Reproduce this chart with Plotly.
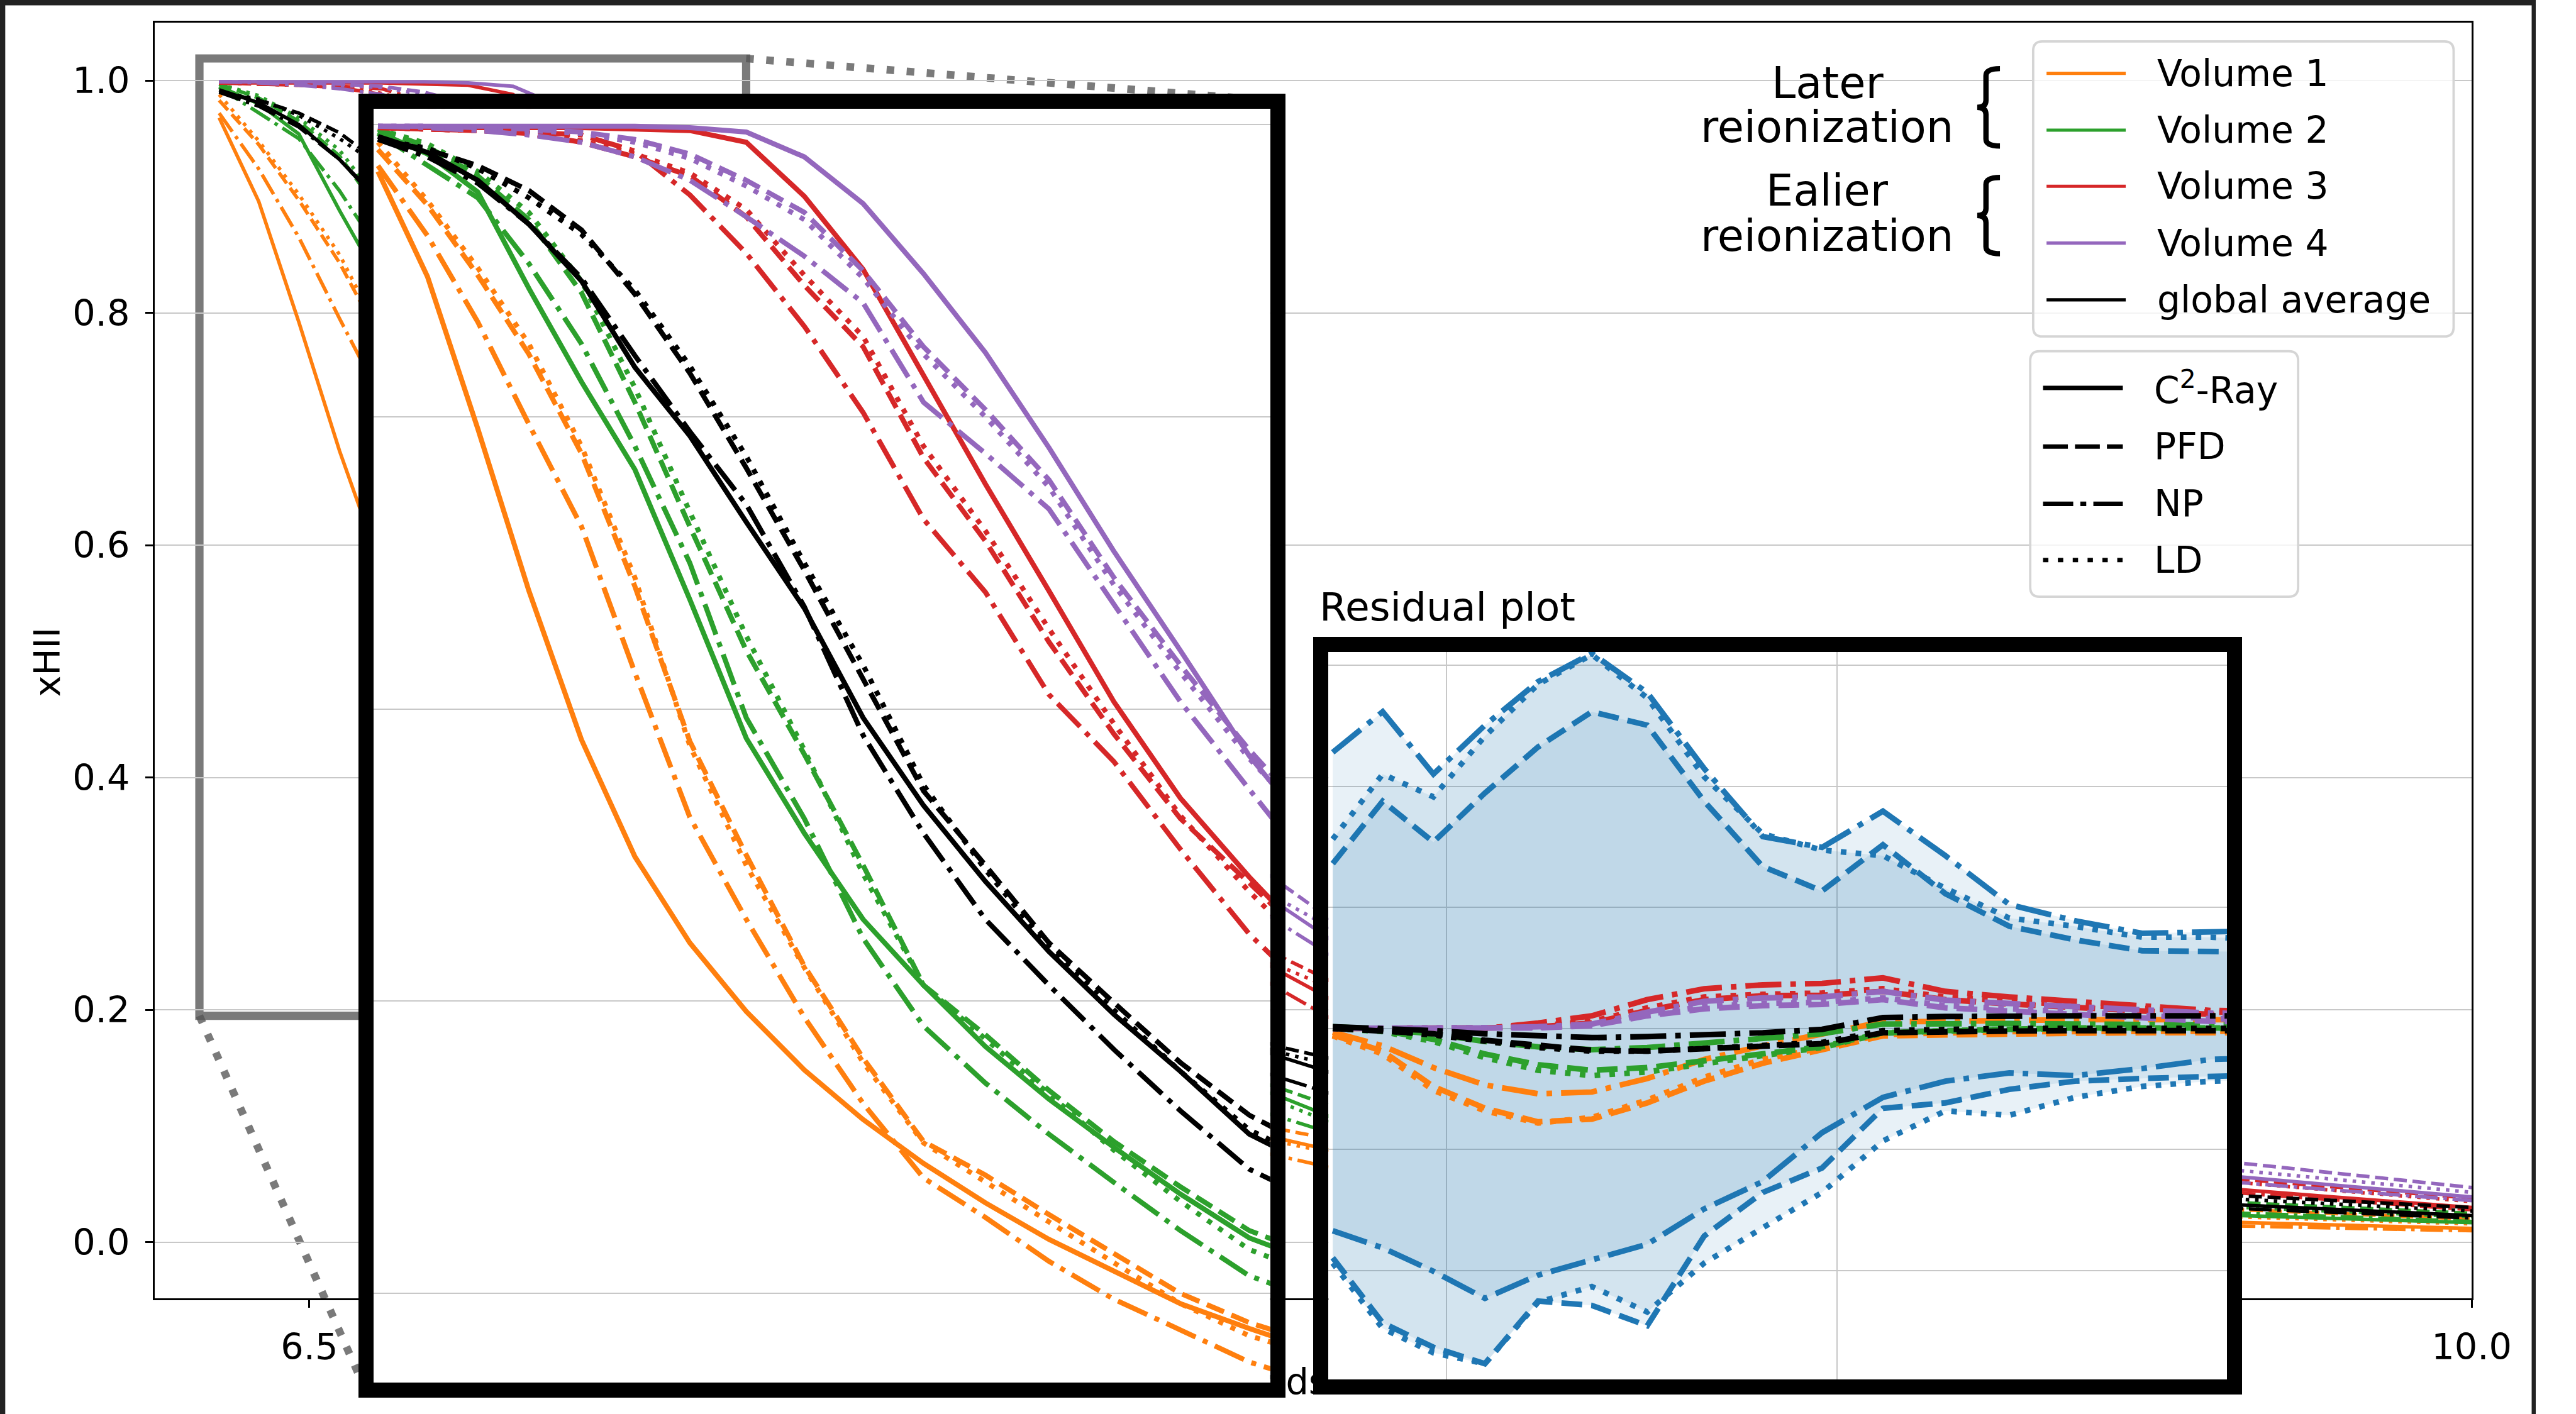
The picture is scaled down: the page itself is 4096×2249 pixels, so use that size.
import plotly.graph_objects as go

REF_W, REF_H = 4354, 2391
W, H = 4096, 2249
S = W / REF_W


def fx(p):
    return p / REF_W


def fy(p):
    return 1.0 - p / REF_H


def sc(v):
    return v * S


FONT = "DejaVu Sans"

# ------------------------------------------------------------------ data
Z = [6.354, 6.418, 6.483, 6.549, 6.617, 6.686, 6.757, 6.830, 6.905, 6.981,
     7.059, 7.139, 7.221, 7.305, 7.391, 7.480, 7.570, 7.760, 7.960, 8.064,
     8.172, 8.397, 8.762, 9.164, 9.611, 9.770, 9.938, 10.110]

V1_C2RAY = [.968, .896, .792, .681, .579, .499, .440, .393, .353, .319, .289, .262, .237, .215, .193, .176,
            .160, .130, .100, .090, .077, .058, .040, .027, .0173, .0151, .0128, .0105]
V1_PFD = [.983, .945, .897, .843, .775, .684, .578, .500, .424, .361, .304, .281, .254, .227, .200, .180,
          .165, .137, .109, .098, .087, .066, .046, .034, .0284, .0250, .0213, .0176]
V1_NP = [.972, .924, .865, .795, .725, .625, .526, .456, .389, .330, .279, .252, .222, .196, .175, .153,
         .138, .110, .084, .075, .062, .045, .030, .020, .0142, .0125, .0107, .0088]
V1_LD = [.988, .948, .902, .850, .780, .690, .575, .493, .423, .358, .303, .276, .249, .221, .193, .171,
         .156, .127, .097, .087, .075, .056, .039, .029, .0223, .0197, .0170, .0142]

V2_C2RAY = [.995, .980, .954, .888, .824, .764, .675, .580, .515, .456, .411, .369, .333, .300, .268, .238,
            .220, .180, .140, .127, .104, .075, .050, .034, .0233, .0207, .0180, .0152]
V2_PFD = [.997, .985, .965, .935, .885, .810, .725, .640, .569, .493, .411, .377, .339, .304, .273, .243,
          .225, .188, .148, .134, .114, .085, .060, .045, .0345, .0306, .0265, .0223]
V2_NP = [.994, .972, .950, .905, .850, .780, .700, .594, .525, .443, .383, .344, .309, .276, .243, .212,
         .195, .160, .122, .109, .091, .066, .046, .034, .0254, .0224, .0192, .0159]
V2_LD = [.997, .987, .968, .940, .893, .820, .735, .650, .572, .487, .411, .374, .336, .298, .263, .230,
         .212, .175, .135, .122, .099, .072, .052, .039, .0304, .0270, .0233, .0196]

V3_C2RAY = [.998, .998, .998, .998, .998, .997, .996, .988, .951, .901, .829, .754, .681, .605, .539, .485,
            .435, .345, .265, .235, .204, .150, .100, .068, .046, .0393, .0325, .0255]
V3_PFD = [.998, .997, .996, .994, .988, .978, .965, .937, .890, .848, .772, .715, .646, .583, .525, .481,
          .435, .350, .275, .248, .220, .165, .112, .078, .055, .048, .0407, .0332]
V3_NP = [.998, .997, .996, .995, .993, .982, .952, .912, .862, .803, .730, .680, .610, .564, .504, .446,
         .400, .320, .250, .220, .187, .137, .092, .062, .043, .0367, .0304, .0238]
V3_LD = [.998, .997, .996, .994, .989, .980, .967, .942, .897, .855, .780, .722, .655, .590, .527, .475,
         .428, .342, .266, .239, .215, .158, .107, .074, .052, .045, .0377, .0303]

V4_C2RAY = [.999, .999, .999, .999, .999, .999, .998, .995, .978, .946, .898, .844, .779, .708, .640, .568,
            .510, .410, .330, .293, .254, .185, .122, .083, .057, .0496, .0419, .034]
V4_PFD = [.999, .999, .998, .997, .995, .990, .980, .962, .940, .900, .848, .805, .757, .690, .630, .572,
          .520, .430, .350, .312, .271, .200, .138, .097, .069, .060, .0505, .041]
V4_NP = [.999, .998, .996, .993, .988, .978, .962, .937, .910, .878, .810, .775, .737, .672, .605, .545,
         .485, .390, .315, .277, .241, .173, .115, .077, .052, .0453, .0385, .0315]
V4_LD = [.999, .999, .998, .996, .994, .988, .977, .958, .935, .895, .843, .800, .752, .685, .625, .566,
         .515, .420, .337, .297, .265, .190, .130, .090, .0625, .0546, .0461, .0375]

GA_C2RAY = [.992, .981, .962, .932, .893, .834, .787, .728, .669, .594, .534, .482, .434, .391, .352, .309,
            .285, .235, .180, .161, .143, .105, .072, .048, .0325, .0286, .0245, .0203]
GA_PFD = [.990, .983, .972, .955, .928, .884, .830, .765, .695, .620, .544, .493, .440, .399, .358, .322,
          .297, .245, .190, .169, .156, .115, .082, .058, .0405, .0362, .0317, .027]
GA_NP = [.990, .978, .960, .932, .895, .842, .790, .740, .670, .582, .515, .456, .411, .367, .325, .285,
         .262, .212, .160, .143, .125, .092, .062, .042, .0294, .026, .0223, .0186]
GA_LD = [.990, .984, .970, .950, .925, .887, .835, .773, .700, .630, .548, .490, .437, .394, .352, .312,
         .289, .238, .185, .164, .151, .110, .077, .054, .0375, .0332, .0287, .024]

# residual plot (percentage points)
Z_RES = [6.354, 6.418, 6.483, 6.549, 6.617, 6.686, 6.757, 6.830, 6.905, 6.981,
         7.059, 7.139, 7.221, 7.305, 7.391, 7.480, 7.570]

BAND_NP_HI = [11.41, 13.09, 10.51, 12.53, 14.33, 15.50, 13.88, 10.74, 7.93, 7.48, 8.98, 7.14, 5.12, 4.45, 3.93, 4.00, 4.05]
BAND_NP_LO = [-8.36, -9.07, -10.04, -11.16, -10.20, -9.59, -8.92, -7.46, -6.33, -4.31, -2.85, -2.18, -1.84, -1.95, -1.66, -1.28, -1.20]
BAND_LD_HI = [7.82, 10.51, 9.57, 12.08, 14.22, 15.45, 13.66, 10.40, 8.04, 7.37, 7.14, 5.79, 4.56, 4.22, 3.77, 3.77, 3.65]
BAND_LD_LO = [-9.70, -12.40, -13.41, -13.86, -11.32, -10.67, -11.72, -9.70, -8.24, -6.78, -4.65, -3.41, -3.59, -2.85, -2.40, -2.18, -2.10]
BAND_PFD_HI = [6.81, 9.39, 7.70, 9.73, 11.63, 13.09, 12.53, 9.39, 6.69, 5.68, 7.59, 5.57, 4.22, 3.66, 3.21, 3.21, 3.15]
BAND_PFD_LO = [-9.48, -12.17, -13.18, -13.86, -11.27, -11.45, -12.29, -8.58, -6.78, -5.77, -3.30, -3.08, -2.52, -2.18, -2.07, -1.95, -1.90]

R1_PFD = [-0.27, -0.94, -2.40, -3.30, -3.86, -3.75, -3.08, -2.18, -1.44, -0.90, -0.31, -0.27, -0.22, -0.20, -0.18, -0.18, -0.18]
R1_NP = [-0.16, -0.72, -1.62, -2.34, -2.70, -2.63, -2.07, -1.28, -0.72, -0.22, 0.27, 0.29, 0.34, 0.36, 0.36, 0.36, 0.36]
R1_LD = [-0.31, -1.06, -2.56, -3.41, -3.91, -3.68, -2.96, -2.02, -1.28, -0.81, -0.25, -0.18, -0.13, -0.13, -0.11, -0.11, -0.11]
R2_PFD = [0.02, -0.09, -0.45, -1.06, -1.50, -1.73, -1.62, -1.35, -1.06, -0.76, -0.18, -0.09, -0.04, 0.0, 0.0, 0.0, 0.0]
R2_NP = [0.07, -0.04, -0.22, -0.54, -0.76, -0.88, -0.79, -0.61, -0.43, -0.22, 0.18, 0.20, 0.20, 0.18, 0.16, 0.13, 0.13]
R2_LD = [0.0, -0.13, -0.54, -1.21, -1.73, -1.95, -1.80, -1.44, -1.12, -0.79, -0.20, -0.09, -0.02, 0.02, 0.02, 0.02, 0.02]
R3_PFD = [0.0, 0.0, 0.0, 0.02, 0.07, 0.22, 0.74, 1.19, 1.35, 1.37, 1.53, 1.19, 1.01, 0.85, 0.72, 0.58, 0.56]
R3_NP = [0.0, 0.0, 0.0, 0.0, 0.22, 0.52, 1.19, 1.64, 1.80, 1.86, 2.09, 1.53, 1.30, 1.12, 0.90, 0.74, 0.72]
R3_LD = [0.0, 0.0, 0.0, 0.02, 0.11, 0.29, 0.85, 1.30, 1.41, 1.46, 1.64, 1.30, 1.12, 0.97, 0.81, 0.67, 0.65]
R4_PFD = [0.0, 0.0, 0.0, 0.0, 0.02, 0.11, 0.52, 0.81, 0.94, 0.99, 1.19, 0.85, 0.72, 0.58, 0.45, 0.29, 0.27]
R4_NP = [0.0, 0.0, 0.0, 0.02, 0.07, 0.18, 0.67, 1.12, 1.26, 1.30, 1.53, 1.17, 1.03, 0.90, 0.76, 0.63, 0.61]
R4_LD = [0.0, 0.0, 0.0, 0.0, 0.04, 0.13, 0.58, 0.90, 1.03, 1.08, 1.26, 0.94, 0.81, 0.67, 0.54, 0.40, 0.38]
RG_PFD = [0.0, -0.09, -0.22, -0.49, -0.72, -0.90, -0.94, -0.85, -0.76, -0.63, -0.18, -0.13, -0.11, -0.09, -0.09, -0.09, -0.09]
RG_NP = [0.07, 0.0, -0.09, -0.22, -0.31, -0.38, -0.34, -0.27, -0.18, -0.04, 0.45, 0.49, 0.52, 0.52, 0.52, 0.52, 0.52]
RG_LD = [0.0, -0.09, -0.27, -0.54, -0.79, -0.94, -0.94, -0.83, -0.72, -0.58, -0.09, -0.04, 0.0, 0.0, 0.0, 0.0, 0.0]

VOLUMES = ['Volume 1', 'Volume 2', 'Volume 3', 'Volume 4', 'global average']
COLORS = ['#ff7f0e', '#2ca02c', '#d62728', '#9467bd', '#000000']
METHODS = ['C2-Ray', 'PFD', 'NP', 'LD']
KIND = {'C2-Ray': 'solid', 'PFD': 'dash', 'NP': 'dashdot', 'LD': 'dot'}

XHII = {
    'Volume 1': [V1_C2RAY, V1_PFD, V1_NP, V1_LD],
    'Volume 2': [V2_C2RAY, V2_PFD, V2_NP, V2_LD],
    'Volume 3': [V3_C2RAY, V3_PFD, V3_NP, V3_LD],
    'Volume 4': [V4_C2RAY, V4_PFD, V4_NP, V4_LD],
    'global average': [GA_C2RAY, GA_PFD, GA_NP, GA_LD],
}
RESID = {
    'Volume 1': [R1_PFD, R1_NP, R1_LD],
    'Volume 2': [R2_PFD, R2_NP, R2_LD],
    'Volume 3': [R3_PFD, R3_NP, R3_LD],
    'Volume 4': [R4_PFD, R4_NP, R4_LD],
    'global average': [RG_PFD, RG_NP, RG_LD],
}
BANDS = [('PFD', BAND_PFD_LO, BAND_PFD_HI), ('NP', BAND_NP_LO, BAND_NP_HI), ('LD', BAND_LD_LO, BAND_LD_HI)]

# ------------------------------------------------------------------ layout geometry (reference pixels)
MAIN_X = (266, 4244)
MAIN_Y = (38, 2195)
IN1_X = (641, 2181)
IN1_Y = (184, 2338)
IN2_X = (2281, 3824)
IN2_Y = (1102, 2333)
FRAME = 26

MAIN_XR = [6.25, 10.0]
MAIN_YR = [-0.048, 1.05]
IN1_XR = [6.348, 7.507]
IN1_YR = [0.1389, 1.0109]
IN2_XR = [6.3485, 7.5]
IN2_YR = [-14.52, 15.57]

LW_MAIN = sc(6.0)
LW_IN1 = sc(8.5)
LW_IN2 = sc(9.5)
PATS = {'dash': [3.7, 1.6], 'dashdot': [6.4, 1.6, 1.0, 1.6], 'dot': [1.0, 1.65]}


def dash(kind, lw):
    if kind == 'solid':
        return 'solid'
    return ','.join(f'{p * lw:.1f}px' for p in PATS[kind])


fig = go.Figure()

# main + inset 1 curves
for axes, lw in (('', LW_MAIN), ('2', LW_IN1)):
    for vol, col in zip(VOLUMES, COLORS):
        for m, vals in zip(METHODS, XHII[vol]):
            fig.add_trace(go.Scatter(
                x=Z, y=vals, mode='lines', name=f'{vol} {m}',
                xaxis='x' + axes, yaxis='y' + axes,
                line=dict(color=col, width=lw, dash=dash(KIND[m], lw)),
                showlegend=False, hoverinfo='skip'))

# residual bands
for m, lo, hi in BANDS:
    ld = dash(KIND[m], LW_IN2)
    fig.add_trace(go.Scatter(x=Z_RES, y=lo, mode='lines', xaxis='x3', yaxis='y3',
                             line=dict(color='#1f77b4', width=LW_IN2, dash=ld),
                             showlegend=False, hoverinfo='skip'))
    fig.add_trace(go.Scatter(x=Z_RES, y=hi, mode='lines', xaxis='x3', yaxis='y3',
                             fill='tonexty', fillcolor='rgba(31,119,180,0.1)',
                             line=dict(color='#1f77b4', width=LW_IN2, dash=ld),
                             showlegend=False, hoverinfo='skip'))
for vol, col in zip(VOLUMES, COLORS):
    for m, vals in zip(METHODS[1:], RESID[vol]):
        fig.add_trace(go.Scatter(x=Z_RES, y=vals, mode='lines', xaxis='x3', yaxis='y3',
                                 line=dict(color=col, width=LW_IN2, dash=dash(KIND[m], LW_IN2)),
                                 showlegend=False, hoverinfo='skip'))

# dummy trace for the overlaid axis carrying the x-axis label
fig.add_trace(go.Scatter(x=[8.125], y=[None], xaxis='x4', yaxis='y', mode='markers',
                         showlegend=False, hoverinfo='skip'))

GRID = '#c8c8c8'
GW = sc(2.5)
tickfont = dict(family=FONT, size=sc(61), color='black')

frame_ax = dict(showline=True, mirror=True, linecolor='black', linewidth=sc(FRAME),
                showticklabels=False, ticks='', zeroline=False)

fig.update_layout(
    width=W, height=H, autosize=False,
    margin=dict(l=0, r=0, t=0, b=0, pad=0),
    paper_bgcolor='white', plot_bgcolor='white',
    showlegend=False,
    xaxis=dict(domain=[fx(MAIN_X[0]), fx(MAIN_X[1])], range=MAIN_XR, anchor='y',
               showline=True, mirror=True, linecolor='black', linewidth=sc(3.5),
               ticks='outside', ticklen=sc(13), tickwidth=sc(3.5), tickcolor='black',
               tick0=0, dtick=0.5, tickformat='.1f', showgrid=False, zeroline=False,
               tickfont=tickfont, ticklabelstandoff=13),
    yaxis=dict(domain=[fy(MAIN_Y[1]), fy(MAIN_Y[0])], range=MAIN_YR, anchor='x',
               showline=True, mirror=True, linecolor='black', linewidth=sc(3.5),
               ticks='outside', ticklen=sc(13), tickwidth=sc(3.5), tickcolor='black',
               tick0=0, dtick=0.2, tickformat='.1f', showgrid=True, gridcolor=GRID,
               gridwidth=GW, zeroline=False, tickfont=tickfont, ticklabelstandoff=13),
    xaxis2=dict(domain=[fx(IN1_X[0]), fx(IN1_X[1])], range=IN1_XR, anchor='y2',
                showgrid=False, **frame_ax),
    yaxis2=dict(domain=[fy(IN1_Y[1]), fy(IN1_Y[0])], range=IN1_YR, anchor='x2',
                tick0=0, dtick=0.2, showgrid=True, gridcolor=GRID, gridwidth=GW, **frame_ax),
    xaxis3=dict(domain=[fx(IN2_X[0]), fx(IN2_X[1])], range=IN2_XR, anchor='y3',
                tick0=0, dtick=0.5, showgrid=True, gridcolor=GRID, gridwidth=GW, **frame_ax),
    yaxis3=dict(domain=[fy(IN2_Y[1]), fy(IN2_Y[0])], range=IN2_YR, anchor='x3',
                tick0=0, dtick=5, showgrid=True, gridcolor=GRID, gridwidth=GW, **frame_ax),
    xaxis4=dict(overlaying='x', anchor='y', side='bottom', range=MAIN_XR,
                tickmode='array', tickvals=[8.125], ticktext=['Redshift'],
                showgrid=False, zeroline=False, showline=False, ticks='',
                tickfont=tickfont, ticklabelstandoff=94),
)

# ------------------------------------------------------------------ shapes
shapes = []


def main_to_paper(z, v):
    px = MAIN_X[0] + (z - MAIN_XR[0]) / (MAIN_XR[1] - MAIN_XR[0]) * (MAIN_X[1] - MAIN_X[0])
    py = MAIN_Y[1] - (v - MAIN_YR[0]) / (MAIN_YR[1] - MAIN_YR[0]) * (MAIN_Y[1] - MAIN_Y[0])
    return fx(px), fy(py)


# zoom indicator rectangle (main data coordinates)
RECT = dict(x0=6.322, x1=7.207, y0=0.195, y1=1.019)
GRAY = 'rgba(85,85,85,0.78)'
shapes.append(dict(type='rect', xref='x', yref='y', layer='below',
                   line=dict(color=GRAY, width=sc(14)), fillcolor='rgba(0,0,0,0)', **RECT))
# connector lines
half = FRAME / 2
p_tr = main_to_paper(RECT['x1'], RECT['y1'])
p_bl = main_to_paper(RECT['x0'], RECT['y0'])
dot_pat = f'{sc(13):.1f}px,{sc(21):.1f}px'
shapes.append(dict(type='line', xref='paper', yref='paper', layer='below',
                   x0=p_tr[0], y0=p_tr[1], x1=fx(IN1_X[1] + half), y1=fy(IN1_Y[0] - half),
                   line=dict(color=GRAY, width=sc(13), dash=dot_pat)))
shapes.append(dict(type='line', xref='paper', yref='paper', layer='below',
                   x0=p_bl[0], y0=p_bl[1], x1=fx(IN1_X[0] - half), y1=fy(IN1_Y[1] + half),
                   line=dict(color=GRAY, width=sc(13), dash=dot_pat)))


def to_path(pts, close=False):
    out = []
    for p in pts:
        cmd, coords = p[0], p[1:]
        xy = [f'{fx(coords[i]):.6f},{fy(coords[i + 1]):.6f}' for i in range(0, len(coords), 2)]
        out.append(cmd + ' '.join(xy))
    return ' '.join(out) + (' Z' if close else '')


def rrect(x0, y0, x1, y1, r):
    pts = [('M', x0 + r, y0), ('L', x1 - r, y0), ('Q', x1, y0, x1, y0 + r), ('L', x1, y1 - r),
           ('Q', x1, y1, x1 - r, y1), ('L', x0 + r, y1), ('Q', x0, y1, x0, y1 - r),
           ('L', x0, y0 + r), ('Q', x0, y0, x0 + r, y0)]
    return to_path(pts, close=True)


LEG_EDGE = '#d5d5d5'
# legend 1 (volumes)
shapes.append(dict(type='path', xref='paper', yref='paper', layer='above',
                   path=rrect(3491, 70, 4213, 569, 16), fillcolor='rgba(255,255,255,0.8)',
                   line=dict(color=LEG_EDGE, width=sc(4))))
LEG1_Y = [124, 220, 315, 411, 507]
for yy, col in zip(LEG1_Y, COLORS):
    shapes.append(dict(type='line', xref='paper', yref='paper', layer='above',
                       x0=fx(3514), x1=fx(3650), y0=fy(yy), y1=fy(yy),
                       line=dict(color=col, width=sc(5.4))))
# legend 2 (methods)
shapes.append(dict(type='path', xref='paper', yref='paper', layer='above',
                   path=rrect(3486, 594, 3946, 1009, 16), fillcolor='rgba(255,255,255,0.8)',
                   line=dict(color=LEG_EDGE, width=sc(4))))
LEG2_Y = [656, 755, 852, 947]
LEG2_DASH = {'C2-Ray': 'solid',
             'PFD': f'{sc(42):.1f}px,{sc(12):.1f}px',
             'NP': f'{sc(51):.1f}px,{sc(12):.1f}px,{sc(10):.1f}px,{sc(12):.1f}px',
             'LD': f'{sc(9):.1f}px,{sc(16):.1f}px'}
for yy, m in zip(LEG2_Y, METHODS):
    shapes.append(dict(type='line', xref='paper', yref='paper', layer='above',
                       x0=fx(3508), x1=fx(3645), y0=fy(yy), y1=fy(yy),
                       line=dict(color='black', width=sc(7.5), dash=LEG2_DASH[m])))


def brace(y0, y1, xr=3434, xs=3410, xl=3395):
    ym = (y0 + y1) / 2
    h = 12
    pts = [('M', xr, y0), ('Q', xs, y0, xs, y0 + h), ('L', xs, ym - h), ('Q', xs, ym, xl, ym),
           ('Q', xs, ym, xs, ym + h), ('L', xs, y1 - h), ('Q', xs, y1, xr, y1)]
    return to_path(pts)


for (b0, b1) in ((116, 247), (300, 429)):
    shapes.append(dict(type='path', xref='paper', yref='paper', layer='above',
                       path=brace(b0, b1), line=dict(color='black', width=sc(9))))

# dark figure border
DARK = '#222222'
shapes.append(dict(type='rect', xref='paper', yref='paper', layer='above',
                   x0=0, x1=1, y0=fy(9), y1=1, fillcolor=DARK, line=dict(width=0)))
shapes.append(dict(type='rect', xref='paper', yref='paper', layer='above',
                   x0=0, x1=fx(9), y0=0, y1=1, fillcolor=DARK, line=dict(width=0)))
shapes.append(dict(type='rect', xref='paper', yref='paper', layer='above',
                   x0=fx(4347), x1=1, y0=0, y1=1, fillcolor=DARK, line=dict(width=0)))

fig.update_layout(shapes=shapes)

# ------------------------------------------------------------------ annotations
ann = []


def text(t, x, y, size, xanchor='center', angle=0):
    ann.append(dict(text=t, x=fx(x), y=fy(y), xref='paper', yref='paper', showarrow=False,
                    xanchor=xanchor, yanchor='middle', textangle=angle,
                    font=dict(family=FONT, size=sc(size), color='black')))


text('xHII', 81, 1120, 61, angle=-90)
text('Later', 3138, 140, 73)
text('reionization', 3137, 215, 73)
text('Ealier', 3138, 322, 73)
text('reionization', 3137, 399, 73)
text('Residual plot', 2263, 1026, 67, xanchor='left')
for yy, name in zip(LEG1_Y, VOLUMES):
    text(name, 3702, yy, 62, xanchor='left')
LEG2_TXT = ['C<sup>2</sup>-Ray', 'PFD', 'NP', 'LD']
for yy, name in zip(LEG2_Y, LEG2_TXT):
    text(name, 3696, yy, 62, xanchor='left')

fig.update_layout(annotations=ann)

# pin the figure to the top-left corner and let it fill the whole browser viewport
POST = ("var st=document.createElement('style');"
        "st.textContent='html,body{margin:0 !important;padding:0 !important;"
        "overflow:hidden !important;}';"
        "document.head.appendChild(st);"
        "var gd=document.getElementById('{plot_id}');"
        "gd.style.position='fixed';gd.style.left='0px';gd.style.top='0px';"
        "var vw=document.documentElement.clientWidth||window.innerWidth||" + str(W) + ";"
        "var vh=document.documentElement.clientHeight||window.innerHeight||" + str(H) + ";"
        "gd.style.width=vw+'px';gd.style.height=vh+'px';"
        "Plotly.relayout(gd,{width:vw,height:vh});")

fig.write_html("out.html", config={'responsive': False, 'displayModeBar': False},
               post_script=POST)
